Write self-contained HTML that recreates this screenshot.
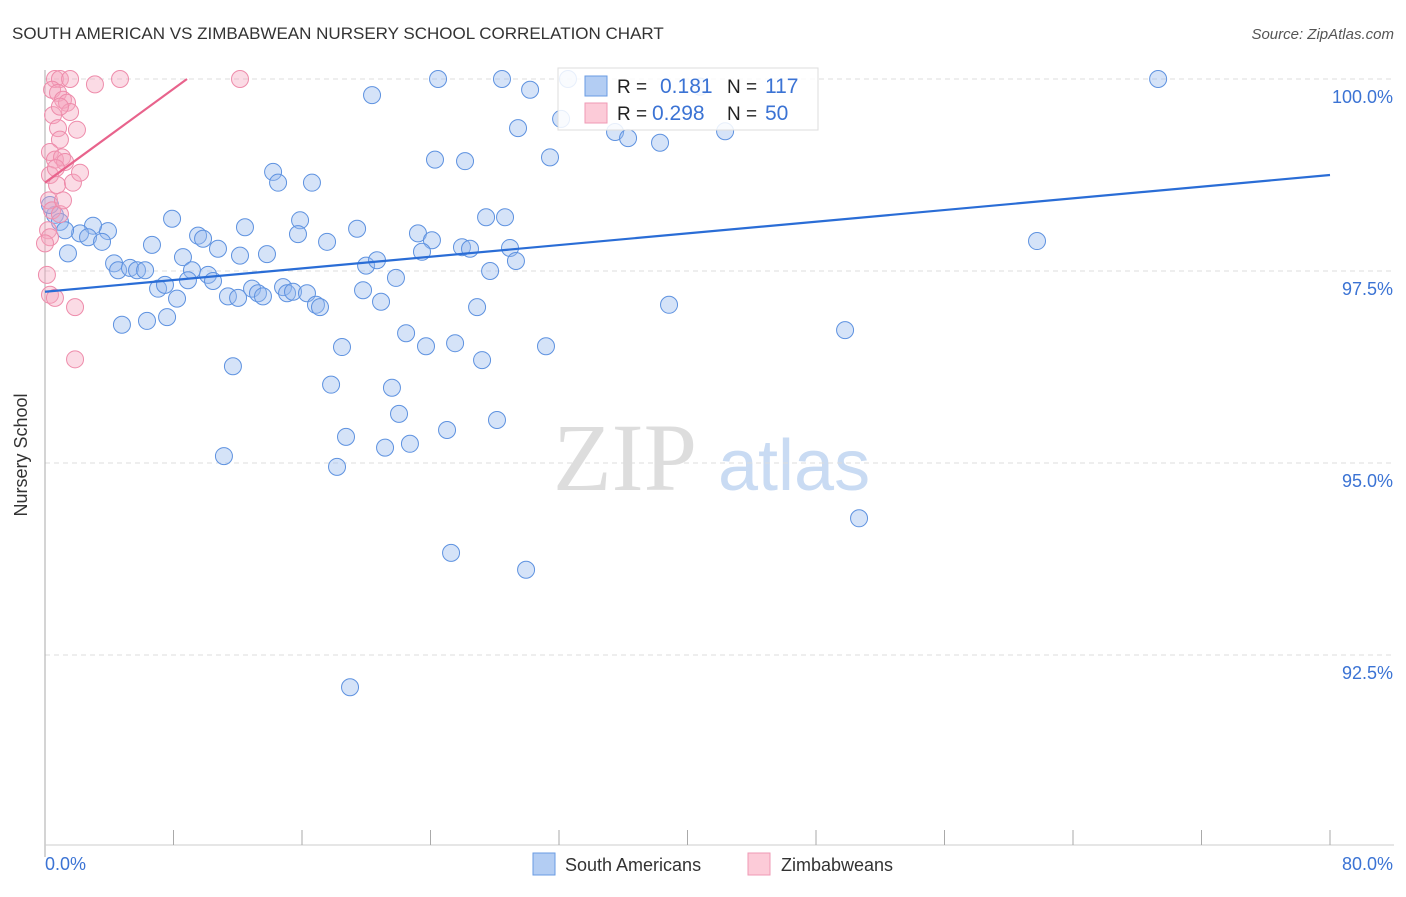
<!DOCTYPE html>
<html><head><meta charset="utf-8">
<style>
body{margin:0;background:#fff;font-family:"Liberation Sans",sans-serif;}
svg text{font-family:"Liberation Sans",sans-serif;}
</style></head>
<body>
<svg id="chart" width="1406" height="892">
<text x="12" y="39" font-size="17" fill="#333">SOUTH AMERICAN VS ZIMBABWEAN NURSERY SCHOOL CORRELATION CHART</text>
<text x="1394" y="39" font-size="15" fill="#555" font-style="italic" text-anchor="end">Source: ZipAtlas.com</text>
<text x="27" y="455" font-size="18" fill="#333" text-anchor="middle" transform="rotate(-90 27 455)">Nursery School</text>
<g>
<text x="553" y="490" font-size="96" fill="#ddd" font-family="Liberation Serif, serif" style="font-family:'Liberation Serif',serif">ZIP</text>
<text x="718" y="490" font-size="72" fill="#c9dbf3">atlas</text>
</g>
<g id="grid"></g>
<g id="axes"></g>
<g id="points"></g>
<g id="trends"></g>
<g>
<rect x="558" y="68" width="260" height="62" fill="#fff" fill-opacity="0.85" stroke="#ddd"/>
<rect x="585" y="76" width="22" height="20" fill="#b3cdf3" stroke="#6a9be3"/>
<rect x="585" y="103" width="22" height="20" fill="#fccbd8" stroke="#ef9ab5"/>
<text x="617" y="93" font-size="19" fill="#222">R =</text>
<text x="660" y="93" font-size="21" fill="#3b73d4">0.181</text>
<text x="727" y="93" font-size="19" fill="#222">N =</text>
<text x="765" y="93" font-size="21" fill="#3b73d4">117</text>
<text x="617" y="120" font-size="19" fill="#222">R =</text>
<text x="652" y="120" font-size="21" fill="#3b73d4">0.298</text>
<text x="727" y="120" font-size="19" fill="#222">N =</text>
<text x="765" y="120" font-size="21" fill="#3b73d4">50</text>
</g>
<g>
<rect x="533" y="853" width="22" height="22" fill="#b3cdf3" stroke="#6a9be3"/>
<text x="565" y="871" font-size="18" fill="#333">South Americans</text>
<rect x="748" y="853" width="22" height="22" fill="#fccbd8" stroke="#ef9ab5"/>
<text x="781" y="871" font-size="18" fill="#333">Zimbabweans</text>
</g>
</svg>
<script>
const yTicks=[100,97.5,95,92.5];
const yTickLabels=["100.0%","97.5%","95.0%","92.5%"];
const xTickLabels=["0.0%","80.0%"];
const blueX=[24.47,28.45,32.56,40.78,69.30,20.36,30.20,29.45,35.49,36.30,38.29,42.34,32.13,31.44,24.28,26.15,14.20,14.51,16.62,12.45,7.91,15.88,19.43,27.46,28.64,23.22,24.09,25.96,26.46,28.95,29.32,27.71,23.47,15.75,17.56,9.53,9.84,6.66,3.92,2.99,2.18,2.68,3.55,1.43,0.62,0.93,1.25,8.59,10.77,12.14,13.82,4.30,4.55,5.29,5.73,6.23,9.15,8.90,10.15,10.46,7.04,7.47,8.22,11.39,12.02,12.89,13.26,13.57,14.82,15.07,15.44,16.31,16.87,17.12,19.80,19.99,20.67,21.85,20.92,26.90,38.85,61.76,4.79,6.35,7.60,11.70,18.49,22.48,23.72,25.53,27.21,31.19,49.81,17.81,21.60,22.04,18.74,25.03,28.14,21.17,22.72,11.14,18.18,50.68,25.28,29.95,18.99,0.31];
const blueY=[100,100,100,99.90,100,99.79,99.86,99.36,99.31,99.23,99.17,99.32,99.48,98.98,98.95,98.93,98.79,98.65,98.65,98.07,98.18,98.16,98.05,98.20,98.20,97.99,97.90,97.81,97.79,97.80,97.63,97.50,97.75,97.98,97.88,97.96,97.92,97.84,98.02,98.09,97.99,97.94,97.88,97.73,98.23,98.14,98.03,97.68,97.79,97.70,97.72,97.60,97.51,97.54,97.51,97.51,97.51,97.38,97.45,97.37,97.27,97.32,97.14,97.17,97.15,97.27,97.21,97.17,97.29,97.21,97.23,97.21,97.06,97.03,97.25,97.57,97.64,97.41,97.10,97.03,97.06,97.89,96.80,96.85,96.90,96.26,96.51,96.69,96.52,96.56,96.34,96.52,96.73,96.02,95.98,95.64,95.34,95.43,95.56,95.20,95.25,95.09,94.95,94.28,93.83,93.61,92.08,98.36];
const pinkX=[0.62,0.93,1.56,3.11,4.67,12.14,0.44,0.81,1.12,1.37,1.56,0.50,0.81,1.99,0.93,0.31,0.62,1.06,1.25,0.31,0.75,1.74,2.18,0.25,0.44,0.93,0.19,0.31,0,0.12,0.31,0.62,1.87,1.87,1.12,0.68,0.93];
const pinkY=[100,100,100,99.93,100,100,99.86,99.82,99.73,99.69,99.57,99.53,99.36,99.34,99.21,99.05,98.95,98.98,98.92,98.75,98.62,98.65,98.78,98.42,98.29,98.24,98.03,97.94,97.86,97.45,97.19,97.15,97.03,96.35,98.42,98.84,99.64];
const blueTrend=[97.23,98.75];
const pinkTrend=[98.65,100];
const pinkTrendEndX=8.84;

const NS="http://www.w3.org/2000/svg";
const xs=v=>45+v/80*1285;
const ys=v=>79+(100-v)/2.5*192;
function mk(tag,attrs,parent){const e=document.createElementNS(NS,tag);for(const k in attrs)e.setAttribute(k,attrs[k]);parent.appendChild(e);return e;}
const grid=document.getElementById('grid'),axes=document.getElementById('axes'),pts=document.getElementById('points'),tr=document.getElementById('trends');
yTicks.forEach((t,i)=>{
  const l=mk('line',{x1:45,x2:1394,y1:ys(t),y2:ys(t),stroke:'#ddd','stroke-dasharray':'5,4'},grid);
  
  
  const tx=mk('text',{x:1393,y:ys(t)+24,'font-size':18,fill:'#3b73d4','text-anchor':'end'},axes);
  tx.textContent=yTickLabels[i];
  
  
});
const ax=mk('line',{x1:45,x2:45,y1:70,y2:857,stroke:'#aaa'},axes);


const bx=mk('line',{x1:45,x2:1394,y1:845,y2:845,stroke:'#ccc'},axes);


for(let i=1;i<=10;i++){
  const t=mk('line',{x1:xs(i*8),x2:xs(i*8),y1:830,y2:845,stroke:'#aaa'},axes);
  
  
}
const xl0=mk('text',{x:45,y:870,'font-size':18,fill:'#3b73d4'},axes);xl0.textContent=xTickLabels[0];


const xl1=mk('text',{x:1393,y:870,'font-size':18,fill:'#3b73d4','text-anchor':'end'},axes);xl1.textContent=xTickLabels[1];


blueX.forEach((v,i)=>{
  const c=mk('circle',{cx:xs(v),cy:ys(blueY[i]),r:8.5,fill:'rgba(150,185,238,0.4)',stroke:'#5e92e0','stroke-width':1},pts);
  
  
});
pinkX.forEach((v,i)=>{
  const c=mk('circle',{cx:xs(v),cy:ys(pinkY[i]),r:8.5,fill:'rgba(246,165,190,0.4)',stroke:'#ee8cab','stroke-width':1},pts);
  
  
});
const bl=mk('line',{x1:xs(0),y1:ys(blueTrend[0]),x2:xs(80),y2:ys(blueTrend[1]),stroke:'#2a6dd6','stroke-width':2.2},tr);


const pl=mk('line',{x1:xs(0),y1:ys(pinkTrend[0]),x2:xs(pinkTrendEndX),y2:ys(pinkTrend[1]),stroke:'#e8638c','stroke-width':2.2},tr);


</script>
</body></html>
